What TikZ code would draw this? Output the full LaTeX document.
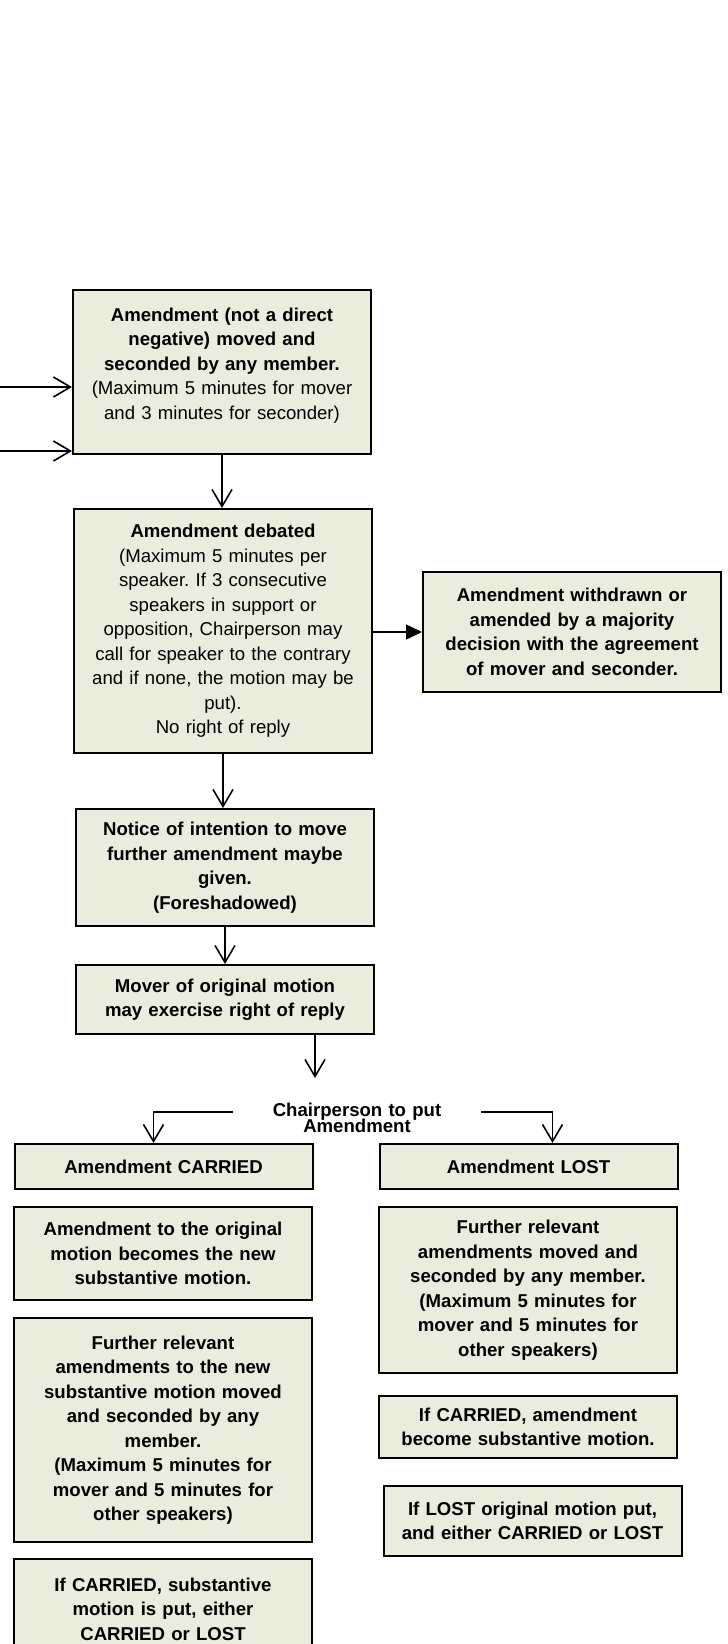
\documentclass[tikz,border=0pt]{standalone}
\usepackage{fontspec}
\setmainfont{Liberation Sans}
\usetikzlibrary{arrows.meta}
\frenchspacing
\definecolor{boxfill}{RGB}{234,236,221}
\tikzset{
  box/.style={draw, line width=1pt, fill=boxfill, align=center, inner sep=0pt,
    text width=149pt, font=\fontsize{9.3}{12.25}\selectfont},
  flow/.style={-{Straight Barb[length=8.5pt,width=10pt]}, line width=.8pt},
  flowfill/.style={-{Triangle[length=8pt,width=7.5pt]}, line width=.8pt}
}
\begin{document}
\begin{tikzpicture}[x=.5pt,y=-.5pt]
\useasboundingbox (0,0) rectangle (728,1644);
% moving and debating
\node [box, minimum height=82pt] (moved) at (222,372)
  {{\bfseries Amendment (not a direct\\ negative) moved and\\ seconded by any member.}\\
   (Maximum 5 minutes for mover\\ and 3 minutes for seconder)\\[-4pt]\mbox{}};
\node [box, minimum height=122pt] (debated) at (223,631)
  {{\bfseries Amendment debated}\\ (Maximum 5 minutes per\\ speaker. If 3 consecutive\\
   speakers in support or\\ opposition, Chairperson may\\ call for speaker to the contrary\\
   and if none, the motion may be\\ put).\\ No right of reply};
\node [box, minimum height=60pt, font=\bfseries\fontsize{9.3}{12.25}\selectfont] (withdrawn) at (572,632)
  {Amendment withdrawn or\\ amended by a majority\\ decision with the agreement\\ of mover and seconder.};
\node [box, minimum height=58.5pt, font=\bfseries\fontsize{9.3}{12.25}\selectfont] (notice) at (225,867.5)
  {Notice of intention to move\\ further amendment maybe\\ given.\\ (Foreshadowed)};
\node [box, minimum height=34.5pt, font=\bfseries\fontsize{9.3}{12.25}\selectfont] (reply) at (225,999.5)
  {Mover of original motion\\ may exercise right of reply};
% putting the amendment
\node [align=center, inner sep=0pt, text width=124pt,
  font=\bfseries\fontsize{9.3}{8.2}\selectfont\setlength{\lineskiplimit}{-6pt}] (chair) at (357,1118)
  {Chairperson to put\\ Amendment};
\node [box, minimum height=22.5pt, font=\bfseries\fontsize{9.3}{12.25}\selectfont] (carried) at (163.5,1166.5) {Amendment CARRIED};
\node [box, minimum height=22.5pt, font=\bfseries\fontsize{9.3}{12.25}\selectfont] (lost) at (528.5,1166.5) {Amendment LOST};
% carried side
\node [box, minimum height=46.5pt, font=\bfseries\fontsize{9.3}{12.25}\selectfont] (original) at (163,1253.5)
  {Amendment to the original\\ motion becomes the new\\ substantive motion.};
\node [box, minimum height=112pt, font=\bfseries\fontsize{9.3}{12.25}\selectfont] (further) at (163,1430)
  {Further relevant\\ amendments to the new\\ substantive motion moved\\ and seconded by any\\ member.\\
   (Maximum 5 minutes for\\ mover and 5 minutes for\\ other speakers)};
\node [box, minimum height=50pt, font=\bfseries\fontsize{9.3}{12.25}\selectfont] (substantive) at (163,1609)
  {If CARRIED, substantive\\ motion is put, either\\ CARRIED or LOST};
% lost side
\node [box, minimum height=83pt, font=\bfseries\fontsize{9.3}{12.25}\selectfont] (relevant) at (528,1290)
  {Further relevant\\ amendments moved and\\ seconded by any member.\\ (Maximum 5 minutes for\\
   mover and 5 minutes for\\ other speakers)};
\node [box, minimum height=31pt, font=\bfseries\fontsize{9.3}{12.25}\selectfont] (becomes) at (528,1427)
  {If CARRIED, amendment\\ become substantive motion.};
\node [box, minimum height=35pt, font=\bfseries\fontsize{9.3}{12.25}\selectfont] (lostput) at (532.5,1521)
  {If LOST original motion put,\\ and either CARRIED or LOST};
% arrows
\coordinate (inA) at (0,387);
\coordinate (inB) at (0,451);
\foreach \c in {inA,inB}
  \draw [flow] (\c) -- (\c -| moved.west);
\draw [flow] (moved.south) -- (moved.south |- debated.north);
\draw [flowfill] (debated.east |- withdrawn.west) -- (withdrawn.west);
\draw [flow] (debated.south) -- (debated.south |- notice.north);
\draw [flow] (notice.south) -- (notice.south |- reply.north);
\coordinate (toput) at (315,1078);
\draw [flow] (reply.south -| toput) -- (toput);
\draw [flow] ([yshift=3pt]chair.west) -| ([xshift=-5pt]carried.north);
\draw [flow] ([yshift=3pt]chair.east) -| ([xshift=12pt]lost.north);
\end{tikzpicture}
\end{document}
